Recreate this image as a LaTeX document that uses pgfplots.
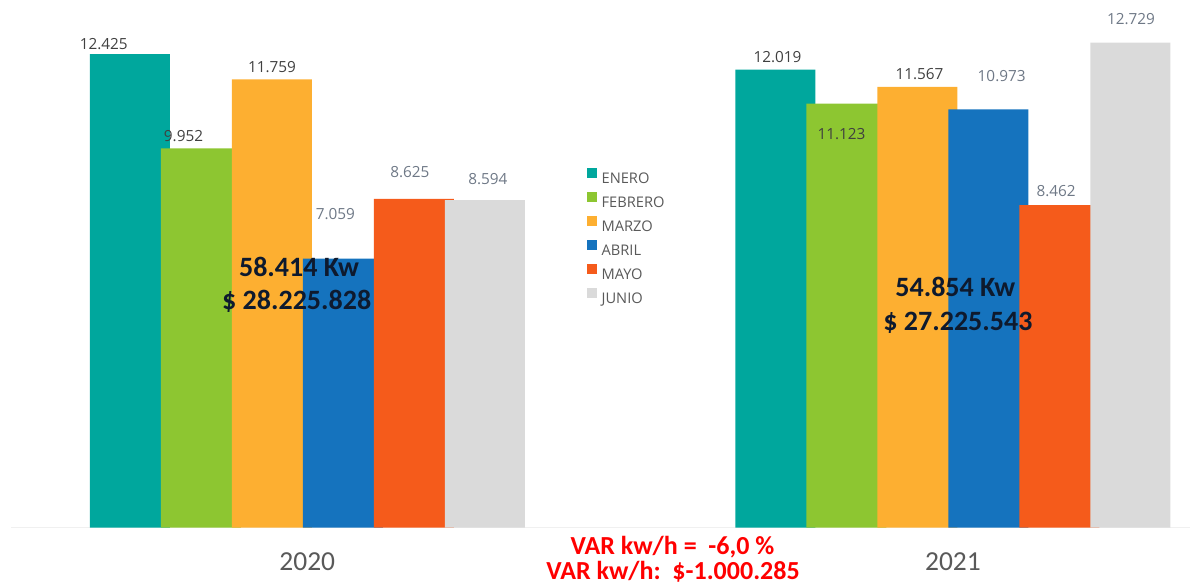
\documentclass[border=0pt]{standalone}
\usepackage{pgfplots}
\pgfplotsset{compat=1.18}
\usepackage{fontspec}
\setmainfont{Open Sans}
\newfontfamily\carlito{Carlito}

\definecolor{cEne}{RGB}{0,167,157}
\definecolor{cFeb}{RGB}{141,198,49}
\definecolor{cMar}{RGB}{253,175,49}
\definecolor{cAbr}{RGB}{21,115,190}
\definecolor{cMay}{RGB}{245,91,27}
\definecolor{cJun}{RGB}{218,218,218}
\definecolor{valdark}{RGB}{64,64,64}
\definecolor{valslate}{RGB}{110,120,134}
\definecolor{txtgray}{RGB}{89,89,89}
\definecolor{navy}{RGB}{14,26,46}

\newcommand{\vlab}[4]{\node[font=\fontsize{11.5}{13}\selectfont, text=#4, inner sep=0pt] at (axis cs:#1,#2) {#3};}

\begin{document}
\begin{tikzpicture}
\begin{axis}[
    name=ax,
    scale only axis,
    width=884.25pt, height=395.625pt,
    xmin=-0.4589, xmax=1.3671,
    ymin=0, ymax=13.845,
    ybar,
    bar width=60pt,
    clip=false,
    axis x line=bottom,
    axis y line=none,
    x axis line style={-, draw=black!6, line width=1.2pt},
    xtick={0,1},
    xticklabels={2020,2021},
    xtick style={draw=none},
    major tick length=0pt,
    xticklabel style={anchor=base, yshift=-31.9pt, font=\carlito\fontsize{20.6}{22}\selectfont, text=txtgray},
    legend style={
        draw=none, fill=none,
        at={(axis cs:0.4327,9.45)}, anchor=north west,
        inner sep=0pt,
        row sep=6.6pt,
        font=\fontsize{11}{13}\selectfont,
        text=txtgray,
        nodes={inner sep=0pt, text height=8pt, text depth=0pt},
        /tikz/every odd column/.append style={column sep=3.5pt},
    },
    legend cell align=left,
    legend image code/.code={\fill[#1] (0pt,0pt) rectangle (7.5pt,7.5pt);},
]
\addplot[fill=cEne, draw=none, bar shift=-133.125pt] coordinates {(0,12.425) (1,12.019)};
\addplot[fill=cFeb, draw=none, bar shift=-79.875pt] coordinates {(0,9.952) (1,11.123)};
\addplot[fill=cMar, draw=none, bar shift=-26.625pt] coordinates {(0,11.759) (1,11.567)};
\addplot[fill=cAbr, draw=none, bar shift=26.625pt] coordinates {(0,7.059) (1,10.973)};
\addplot[fill=cMay, draw=none, bar shift=79.875pt] coordinates {(0,8.625) (1,8.462)};
\addplot[fill=cJun, draw=none, bar shift=133.125pt] coordinates {(0,8.594) (1,12.729)};
\legend{ENERO,FEBRERO,MARZO,ABRIL,MAYO,JUNIO}

% value labels
\vlab{-0.3153}{12.69}{12.425}{valdark}
\vlab{-0.1917}{10.276}{9.952}{valdark}
\vlab{-0.0547}{12.08}{11.759}{valdark}
\vlab{0.0434}{8.22}{7.059}{valslate}
\vlab{0.1588}{9.323}{8.625}{valslate}
\vlab{0.2796}{9.139}{8.594}{valslate}
\vlab{0.7282}{12.341}{12.019}{valdark}
\vlab{0.8273}{10.328}{11.123}{valdark}
\vlab{0.9481}{11.895}{11.567}{valdark}
\vlab{1.0754}{11.85}{10.973}{valslate}
\vlab{1.1598}{8.832}{8.462}{valslate}
\vlab{1.2757}{13.339}{12.729}{valslate}

% totals
\node[anchor=base, inner sep=0pt, text=navy, font=\carlito\bfseries\fontsize{21}{24}\selectfont] at (axis cs:-0.0129,6.583) {58.414 Kw};
\node[anchor=base, inner sep=0pt, text=navy, font=\carlito\bfseries\fontsize{21}{24}\selectfont] at (axis cs:-0.0164,5.709) {\$ 28.225.828};
\node[anchor=base, inner sep=0pt, text=navy, font=\carlito\bfseries\fontsize{21}{24}\selectfont] at (axis cs:1.0036,6.05) {54.854 Kw};
\node[anchor=base, inner sep=0pt, text=navy, font=\carlito\bfseries\fontsize{21}{24}\selectfont] at (axis cs:1.0077,5.168) {\$ 27.225.543};

% variation
\node[anchor=base, inner sep=0pt, text=red, font=\carlito\bfseries\fontsize{19.5}{22}\selectfont] at (axis cs:0.5656,-0.6955) {VAR kw/h =\ \ -6,0 \%};
\node[anchor=base, inner sep=0pt, text=red, font=\carlito\bfseries\fontsize{19.5}{22}\selectfont] at (axis cs:0.5664,-1.3517) {VAR kw/h:\ \ \$-1.000.285};
\end{axis}
\pgfresetboundingbox
\path[use as bounding box] ([xshift=-8.25pt,yshift=-43.875pt]ax.south west) rectangle ([xshift=8.25pt]ax.north east);
\end{tikzpicture}
\end{document}
